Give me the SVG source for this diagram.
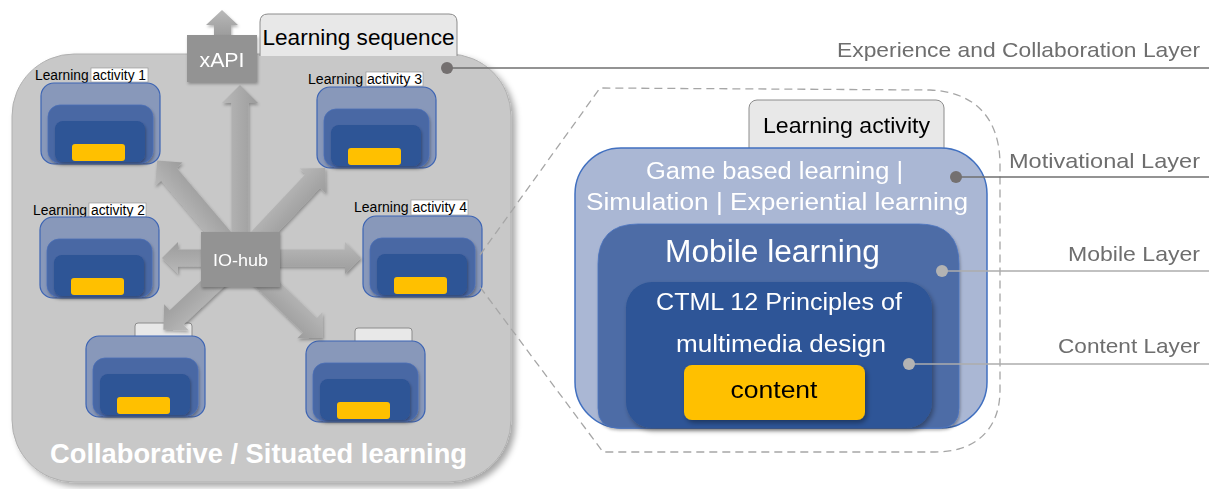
<svg xmlns="http://www.w3.org/2000/svg" width="1209" height="489" viewBox="0 0 1209 489">
  <defs>
    <style>
      .lbl { font-family: "Liberation Sans", Arial, sans-serif; fill: #000; }
      .wht { font-family: "Liberation Sans", Arial, sans-serif; fill: #fff; }
      .layer { font-family: "Liberation Sans", Arial, sans-serif; fill: #6e6e6e; font-size: 21px; text-anchor: end; }
      .c-out { fill: #8898ba; stroke: #3c64b4; stroke-width: 1.2; }
      .c-mid { fill: #4a68a4; stroke: #4a6fb8; stroke-width: 0.8; }
      .c-in { fill: #2d5496; }
      .c-yel { fill: #ffc000; }
      .tab { fill: #e8e8e8; stroke: #8c8c8c; stroke-width: 1; }
      .lblbox { fill: #ffffff; stroke: #9a9a9a; stroke-width: 0.7; }
      .hub { fill: #939393; }
      .dot-dark { fill: #747070; }
      .dot-light { fill: #b3b3b3; }
    </style>
    <filter id="shadow" x="-20%" y="-20%" width="150%" height="150%">
      <feDropShadow dx="2" dy="3" stdDeviation="2.5" flood-color="#000" flood-opacity="0.35"/>
    </filter>
    <filter id="softShadow" x="-20%" y="-20%" width="150%" height="150%">
      <feDropShadow dx="1" dy="2" stdDeviation="1.5" flood-color="#000" flood-opacity="0.3"/>
    </filter>
    <filter id="bigShadow" x="-10%" y="-10%" width="125%" height="125%">
      <feDropShadow dx="4" dy="4" stdDeviation="3" flood-color="#000" flood-opacity="0.35"/>
    </filter>
    <!-- one activity card, origin at the outer top-left corner -->
    <g id="card">
      <rect class="c-out" x="0" y="0" width="119" height="81" rx="13"/>
      <rect class="c-mid" x="7" y="22" width="105" height="58" rx="12" filter="url(#softShadow)"/>
      <rect class="c-in" x="14" y="38" width="90" height="41" rx="8" filter="url(#softShadow)"/>
      <rect class="c-yel" x="31" y="61" width="53" height="17" rx="3"/>
    </g>
    <linearGradient id="arrowGrad" x1="0" y1="0" x2="0" y2="1">
      <stop offset="0" stop-color="#b9b9b9"/>
      <stop offset="0.5" stop-color="#aaaaaa"/>
      <stop offset="1" stop-color="#9c9c9c"/>
    </linearGradient>
  </defs>

  <!-- Learning sequence container -->
  <g id="sequence">
    <rect x="12" y="54" width="499" height="428" rx="62" fill="#c8c8c8" stroke="#b0b0b0" stroke-width="1" filter="url(#bigShadow)"/>
    <g id="sequence-tab">
      <path class="tab" d="M260,56 V22 Q260,14 268,14 H449 Q457,14 457,22 V56"/>
      <text class="lbl" x="358.5" y="45" font-size="22" text-anchor="middle" textLength="192" lengthAdjust="spacingAndGlyphs">Learning sequence</text>
    </g>
    <text class="wht" x="258.5" y="463" font-size="28" font-weight="bold" text-anchor="middle" textLength="417" lengthAdjust="spacingAndGlyphs">Collaborative / Situated learning</text>
  </g>

  <!-- Activity cards -->
  <g id="activity-1">
    <rect class="lblbox" x="91" y="68" width="57" height="14"/>
    <text class="lbl" x="35" y="80" font-size="14" textLength="111" lengthAdjust="spacingAndGlyphs">Learning activity 1</text>
    <use href="#card" x="41" y="83"/>
  </g>
  <g id="activity-3">
    <rect class="lblbox" x="366" y="72" width="57" height="14"/>
    <text class="lbl" x="308" y="84" font-size="14" textLength="114" lengthAdjust="spacingAndGlyphs">Learning activity 3</text>
    <use href="#card" x="317" y="87"/>
  </g>
  <g id="activity-2">
    <rect class="lblbox" x="89" y="203" width="57" height="14"/>
    <text class="lbl" x="33" y="215" font-size="14" textLength="112" lengthAdjust="spacingAndGlyphs">Learning activity 2</text>
    <use href="#card" x="40" y="217"/>
  </g>
  <g id="activity-4">
    <rect class="lblbox" x="411" y="200" width="57" height="15"/>
    <text class="lbl" x="354" y="212" font-size="14" textLength="113" lengthAdjust="spacingAndGlyphs">Learning activity 4</text>
    <use href="#card" x="363" y="216"/>
  </g>
  <g id="activity-5">
    <path class="tab" d="M135,337 V326 Q135,323 138,323 H189 Q192,323 192,326 V337"/>
    <use href="#card" x="86" y="336"/>
  </g>
  <g id="activity-6">
    <path class="tab" d="M355,342 V331 Q355,328 358,328 H409 Q412,328 412,331 V342"/>
    <use href="#card" x="306" y="341"/>
  </g>

  <!-- Connectors: hub arrows and xAPI output -->
  <g id="connectors" filter="url(#softShadow)">
    <path fill="url(#arrowGrad)" transform="translate(240,258) rotate(-90)" d="M0,-8.5 H155 V-18 L173,0 L155,18 V8.5 H0 Z"/>
    <path fill="url(#arrowGrad)" transform="translate(240,258) rotate(180)" d="M0,-8.5 H62 V-16 L78,0 L62,16 V8.5 H0 Z"/>
    <path fill="url(#arrowGrad)" transform="translate(240,258) rotate(0)" d="M0,-8.5 H105 V-16 L121,0 L105,16 V8.5 H0 Z"/>
    <path fill="url(#arrowGrad)" transform="translate(240,258) rotate(-130.3)" d="M0,-10 H110 V-18 L128,0 L110,18 V10 H0 Z"/>
    <path fill="url(#arrowGrad)" transform="translate(240,258) rotate(-46.6)" d="M0,-10 H106 V-18 L124,0 L106,18 V10 H0 Z"/>
    <path fill="url(#arrowGrad)" transform="translate(240,258) rotate(136.9)" d="M0,-10 H87 V-18 L105,0 L87,18 V10 H0 Z"/>
    <path fill="url(#arrowGrad)" transform="translate(240,258) rotate(43.9)" d="M0,-10 H97 V-18 L115,0 L97,18 V10 H0 Z"/>
    <path fill="url(#arrowGrad)" d="M214,36 V25 H206 L222,10 L238,25 H231 V36 Z"/>
  </g>

  <g id="xapi">
    <rect class="hub" x="187" y="35" width="70" height="47" filter="url(#softShadow)"/>
    <text class="wht" x="222" y="67" font-size="20" text-anchor="middle" textLength="45" lengthAdjust="spacingAndGlyphs">xAPI</text>
  </g>
  <g id="io-hub">
    <rect class="hub" x="201" y="232" width="79" height="55" filter="url(#softShadow)"/>
    <text class="wht" x="240.5" y="266" font-size="17" text-anchor="middle" textLength="55" lengthAdjust="spacingAndGlyphs">IO-hub</text>
  </g>

  <!-- Zoomed learning activity -->
  <g id="zoom-outline">
    <path d="M480,255 L600,88 L930,90 C975,92 1000,118 1000,165 L1000,390 C1000,430 975,452 935,452 L603,452 L480,287" fill="none" stroke="#a6a6a6" stroke-width="1.3" stroke-dasharray="8,5"/>
  </g>

  <g id="activity-detail">
    <g id="activity-tab">
      <rect class="tab" x="749" y="100" width="195" height="60" rx="8"/>
      <text class="lbl" x="846.5" y="133" font-size="22" text-anchor="middle" textLength="167" lengthAdjust="spacingAndGlyphs">Learning activity</text>
    </g>
    <g id="motivational">
      <rect x="575" y="148" width="412" height="280" rx="46" fill="#aab7d4" stroke="#4170c0" stroke-width="1.5"/>
      <text class="wht" x="774.5" y="179" font-size="23" text-anchor="middle" textLength="257" lengthAdjust="spacingAndGlyphs">Game based learning |</text>
      <text class="wht" x="777" y="210" font-size="23" text-anchor="middle" textLength="382" lengthAdjust="spacingAndGlyphs">Simulation | Experiential learning</text>
    </g>
    <g id="mobile">
      <path d="M598,408 V264 Q598,224 638,224 H919 Q959,224 959,264 V408 Q959,428 939,428 H618 Q598,428 598,408 Z" fill="#4e6ca6" stroke="#4a73c0" stroke-width="0.8" filter="url(#softShadow)"/>
      <text class="wht" x="772.5" y="262" font-size="31" text-anchor="middle" textLength="215" lengthAdjust="spacingAndGlyphs">Mobile learning</text>
    </g>
    <g id="ctml">
      <rect x="626" y="282" width="306" height="146" rx="26" fill="#2d5597" filter="url(#shadow)"/>
      <text class="wht" x="779" y="310" font-size="23" text-anchor="middle" textLength="246" lengthAdjust="spacingAndGlyphs">CTML 12 Principles of</text>
      <text class="wht" x="781" y="352" font-size="23" text-anchor="middle" textLength="210" lengthAdjust="spacingAndGlyphs">multimedia design</text>
    </g>
    <g id="content">
      <rect x="684" y="365" width="181" height="55" rx="8" fill="#ffc000" filter="url(#shadow)"/>
      <text class="lbl" x="774" y="398" font-size="24" text-anchor="middle" textLength="87" lengthAdjust="spacingAndGlyphs">content</text>
    </g>
  </g>

  <!-- Layer callouts -->
  <g id="layers">
    <line x1="447" y1="68" x2="1209" y2="68" stroke="#6f6f6f" stroke-width="1.5"/>
    <circle class="dot-dark" cx="447" cy="68" r="6"/>
    <text class="layer" x="1200" y="57" textLength="363" lengthAdjust="spacingAndGlyphs">Experience and Collaboration Layer</text>

    <line x1="956" y1="177" x2="1209" y2="177" stroke="#6f6f6f" stroke-width="1.5"/>
    <circle class="dot-dark" cx="956" cy="177" r="6"/>
    <text class="layer" x="1200" y="168" textLength="191" lengthAdjust="spacingAndGlyphs">Motivational Layer</text>

    <line x1="942" y1="271" x2="1209" y2="271" stroke="#adadad" stroke-width="1.5"/>
    <circle class="dot-light" cx="942" cy="271" r="6"/>
    <text class="layer" x="1200" y="261" textLength="132" lengthAdjust="spacingAndGlyphs">Mobile Layer</text>

    <line x1="909" y1="364" x2="1209" y2="364" stroke="#adadad" stroke-width="1.5"/>
    <circle class="dot-light" cx="909" cy="364" r="6"/>
    <text class="layer" x="1200" y="353" textLength="142" lengthAdjust="spacingAndGlyphs">Content Layer</text>
  </g>
</svg>
